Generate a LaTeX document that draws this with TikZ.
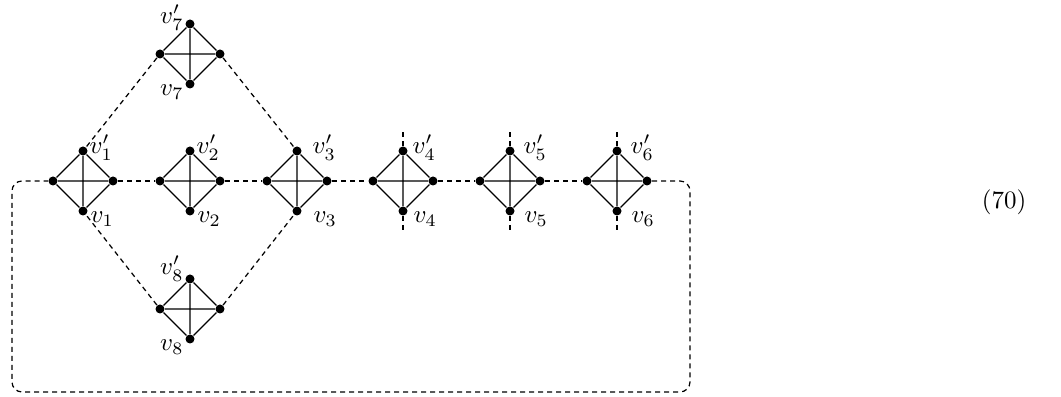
\documentclass[tikz,border=0pt]{standalone}
\begin{document}
\begin{tikzpicture}[x=0.4pt,y=-0.4pt,
  dot/.style={circle,fill=black,inner sep=0pt,minimum size=3.6pt},
  edge/.style={line width=0.45pt},
  dline/.style={line width=0.5pt,dash pattern=on 2pt off 1.6pt},
  lab/.style={inner sep=0pt}]
\useasboundingbox (0,0) rectangle (1061,397);
\newcommand{\kfour}[3]{%
  \node[dot] (#1t) at (#2,#3-30) {};
  \node[dot] (#1b) at (#2,#3+30) {};
  \node[dot] (#1l) at (#2-30,#3) {};
  \node[dot] (#1r) at (#2+30,#3) {};
  \draw[edge] (#1t)--(#1l)--(#1b)--(#1r)--(#1t) (#1t)--(#1b) (#1l)--(#1r);
}
\kfour{a}{83}{181}
\kfour{b}{190}{181}
\kfour{c}{297}{181}
\kfour{d}{403}{181}
\kfour{e}{510}{181}
\kfour{f}{617}{181}
\kfour{g}{190}{54}
\kfour{h}{190}{309}
% labels right of row diamonds
\foreach \n/\i/\dx in {a/1/6,b/2/6,c/3/15,d/4/9,e/5/13,f/6/13}{
  \node[lab,anchor=base west] at ([shift={(\dx,3)}]\n t) {$v_{\i}'$};
  \node[lab,anchor=base west] at ([shift={(\dx+1,12)}]\n b) {$v_{\i}$};
}
\node[lab,anchor=base east] at ([shift={(-6,0)}]gt) {$v_7'$};
\node[lab,anchor=base east] at ([shift={(-6,12)}]gb) {$v_7$};
\node[lab,anchor=base east] at ([shift={(-6,-4)}]ht) {$v_8'$};
\node[lab,anchor=base east] at ([shift={(-6,12)}]hb) {$v_8$};
% dashed connections
\draw[dline] (ar)--(bl) (br)--(cl) (cr)--(dl) (dr)--(el) (er)--(fl);
\draw[dline] (gl)--(at) (gr)--(ct) (hl)--(ab) (hr)--(cb);
\coordinate (d4u) at (403,130);
\coordinate (d4d) at (403,231);
\coordinate (d5u) at (510,130);
\coordinate (d5d) at (510,231);
\coordinate (d6u) at (617,130);
\coordinate (d6d) at (617,231);
\draw[dline] (dt)--(d4u) (db)--(d4d) (et)--(d5u) (eb)--(d5d) (ft)--(d6u) (fb)--(d6d);
\coordinate (c1) at (690,181);
\coordinate (c2) at (690,392);
\coordinate (c3) at (12,392);
\coordinate (c4) at (12,181);
\draw[dline,rounded corners=4pt] (fr)--(c1)--(c2)--(c3)--(c4)--(al);
\node[lab] (eq) at (1004,202) {(70)};
\end{tikzpicture}
\end{document}
